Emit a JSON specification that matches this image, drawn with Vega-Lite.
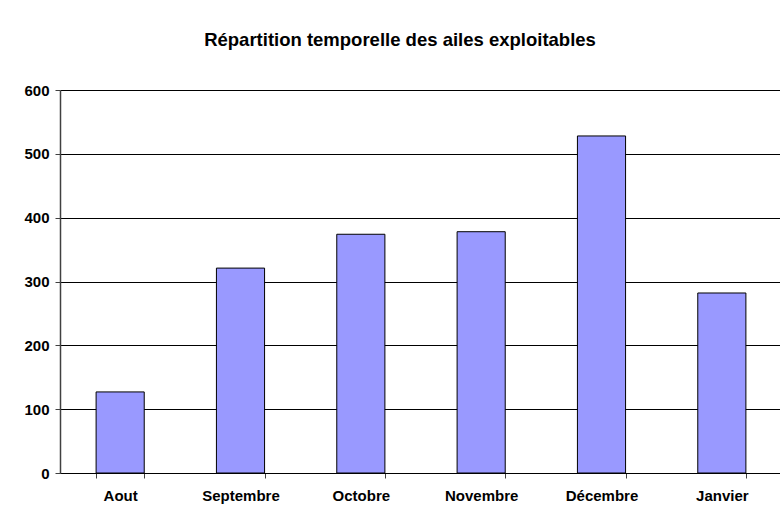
{
  "$schema": "https://vega.github.io/schema/vega-lite/v6.json",
  "autosize": "none",
  "width": 722,
  "height": 383,
  "padding": {"left": 60, "top": 90, "right": 0, "bottom": 41},
  "background": "white",
  "config": {
    "font": "Liberation Sans",
    "view": {"stroke": null}
  },
  "title": {
    "text": "Répartition temporelle des ailes exploitables",
    "fontSize": 18.5,
    "fontWeight": "bold",
    "font": "Liberation Sans",
    "color": "black",
    "anchor": "middle",
    "frame": "group",
    "dx": -21,
    "baseline": "alphabetic",
    "offset": 19
  },
  "data": {
    "values": [
      {"mois": "Aout", "ailes": 127},
      {"mois": "Septembre", "ailes": 321},
      {"mois": "Octobre", "ailes": 374},
      {"mois": "Novembre", "ailes": 378},
      {"mois": "Décembre", "ailes": 528},
      {"mois": "Janvier", "ailes": 282}
    ]
  },
  "mark": {"type": "bar", "color": "#9999FF", "stroke": "black", "strokeWidth": 1},
  "encoding": {
    "x": {
      "field": "mois",
      "type": "nominal",
      "sort": null,
      "scale": {"paddingInner": 0.6, "paddingOuter": 0.3},
      "axis": {
        "title": null,
        "labelAngle": 0,
        "labelFontSize": 15,
        "labelFontWeight": "bold",
        "labelColor": "black",
        "labelPadding": 10,
        "tickBand": "extent",
        "tickSize": 5,
        "tickColor": "#404040",
        "domainColor": "black",
        "grid": false
      }
    },
    "y": {
      "field": "ailes",
      "type": "quantitative",
      "scale": {"domain": [0, 600], "nice": false},
      "axis": {
        "title": null,
        "values": [0, 100, 200, 300, 400, 500, 600],
        "labelFontSize": 15,
        "labelFontWeight": "bold",
        "labelColor": "black",
        "labelPadding": 6,
        "tickSize": 5,
        "tickColor": "#404040",
        "domainColor": "#404040",
        "domainWidth": 1.5,
        "grid": true,
        "gridColor": "black",
        "gridOpacity": 1,
        "gridWidth": 1
      }
    }
  }
}
